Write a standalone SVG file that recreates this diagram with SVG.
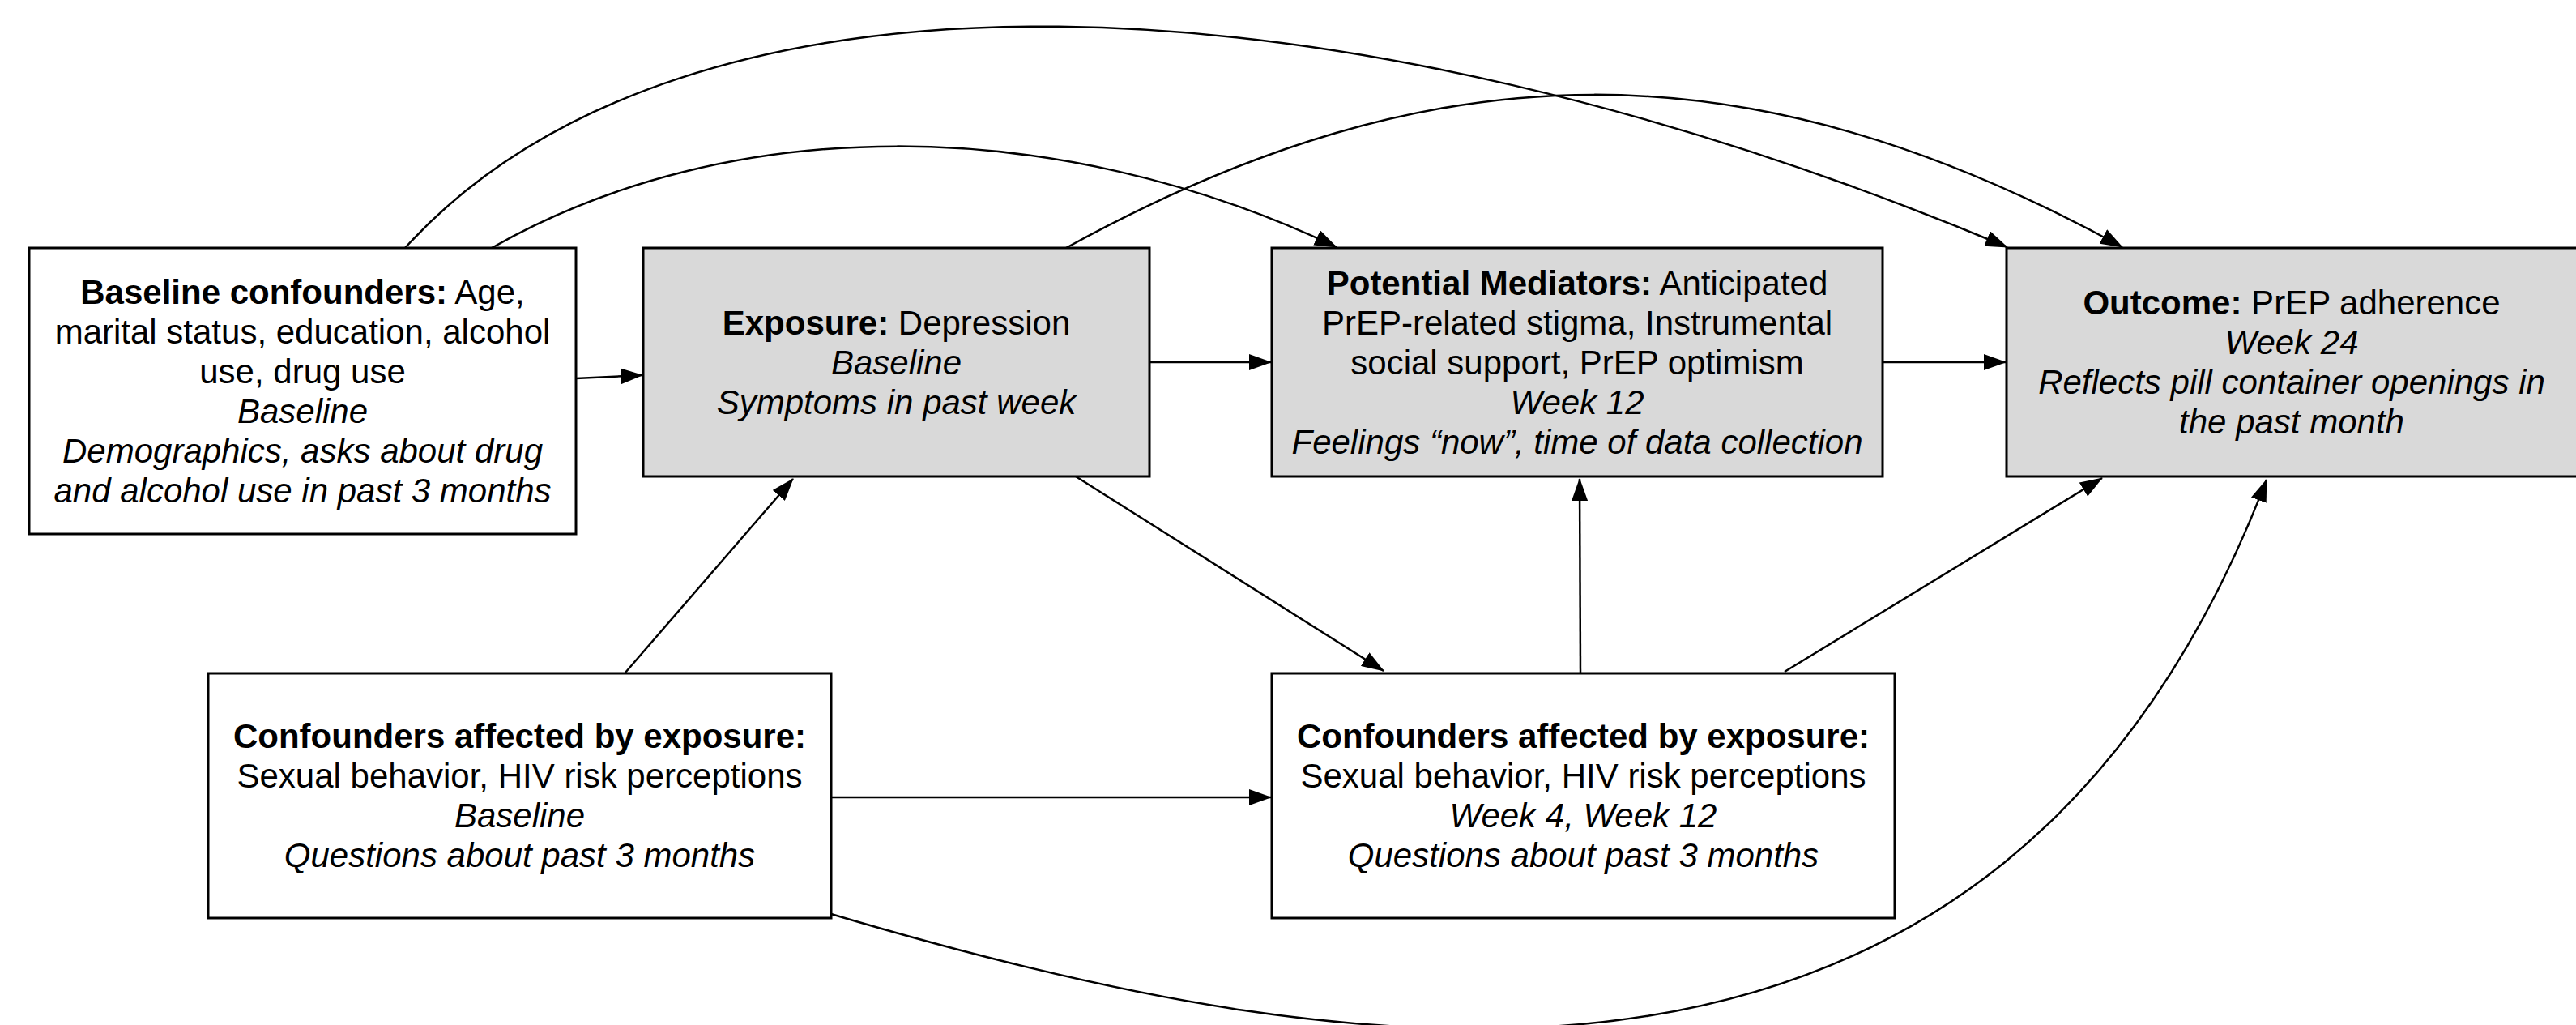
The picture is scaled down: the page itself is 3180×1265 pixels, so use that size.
<svg xmlns="http://www.w3.org/2000/svg" width="3180" height="1265" viewBox="0 0 3180 1265">
  <style>
    .box { stroke: #000; stroke-width: 3; }
    .white { fill: #ffffff; }
    .gray { fill: #d9d9d9; }
    .t { font-family: "Liberation Sans", Arial, Helvetica, sans-serif; font-size: 42px; fill: #000; text-anchor: middle; }
    .b { font-weight: bold; }
    .i { font-style: italic; }
    .edge { fill: none; stroke: #000; stroke-width: 2.5; marker-end: url(#arrow); }
  </style>
  <defs>
    <marker id="arrow" markerUnits="userSpaceOnUse" markerWidth="28" markerHeight="20" viewBox="0 0 28 20" refX="27" refY="10" orient="auto">
      <path d="M0,0 L28,10 L0,20 z" fill="#000"/>
    </marker>
  </defs>
  <rect width="3180" height="1265" fill="#ffffff"/>

  <g id="connectors">
    <path class="edge" d="M711,467 L793,463"/>
    <path class="edge" d="M1419,447 L1569,447"/>
    <path class="edge" d="M2324,447 L2476,447"/>
    <path class="edge" d="M772,830 L979,591"/>
    <path class="edge" d="M1328,588 L1708,828"/>
    <path class="edge" d="M1951,831 L1950,591"/>
    <path class="edge" d="M2203,829 L2595,590"/>
    <path class="edge" d="M1026,984 L1569,984"/>
    <path class="edge" d="M1026,1128 C1680,1322 2470,1448 2798,592"/>
    <path class="edge" d="M500,306 C845,-73.5 1648,-42.6 2478,305"/>
    <path class="edge" d="M607,306 C900,139 1300,139 1650,305"/>
    <path class="edge" d="M1316,306 C1774,54 2162,54 2620,305"/>
  </g>

  <g id="baseline-confounders">
    <rect class="box white" x="36" y="306" width="675" height="353"/>
    <text class="t" x="373.5" y="375"><tspan class="b">Baseline confounders:</tspan> Age,</text>
    <text class="t" x="373.5" y="424">marital status, education, alcohol</text>
    <text class="t" x="373.5" y="473">use, drug use</text>
    <text class="t i" x="373.5" y="522">Baseline</text>
    <text class="t i" x="373.5" y="571">Demographics, asks about drug</text>
    <text class="t i" x="373.5" y="620">and alcohol use in past 3 months</text>
  </g>

  <g id="exposure">
    <rect class="box gray" x="794" y="306" width="625" height="282"/>
    <text class="t" x="1106.5" y="413"><tspan class="b">Exposure:</tspan> Depression</text>
    <text class="t i" x="1106.5" y="462">Baseline</text>
    <text class="t i" x="1106.5" y="511">Symptoms in past week</text>
  </g>

  <g id="mediators">
    <rect class="box gray" x="1570" y="306" width="754" height="282"/>
    <text class="t" x="1947" y="364"><tspan class="b">Potential Mediators:</tspan> Anticipated</text>
    <text class="t" x="1947" y="413">PrEP-related stigma, Instrumental</text>
    <text class="t" x="1947" y="462">social support, PrEP optimism</text>
    <text class="t i" x="1947" y="511">Week 12</text>
    <text class="t i" x="1947" y="560">Feelings “now”, time of data collection</text>
  </g>

  <g id="outcome">
    <rect class="box gray" x="2477" y="306" width="712" height="282"/>
    <text class="t" x="2829" y="388"><tspan class="b">Outcome:</tspan> PrEP adherence</text>
    <text class="t i" x="2829" y="437">Week 24</text>
    <text class="t i" x="2829" y="486">Reflects pill container openings in</text>
    <text class="t i" x="2829" y="535">the past month</text>
  </g>

  <g id="confounders-baseline">
    <rect class="box white" x="257" y="831" width="769" height="302"/>
    <text class="t b" x="641.5" y="923">Confounders affected by exposure:</text>
    <text class="t" x="641.5" y="972">Sexual behavior, HIV risk perceptions</text>
    <text class="t i" x="641.5" y="1021">Baseline</text>
    <text class="t i" x="641.5" y="1070">Questions about past 3 months</text>
  </g>

  <g id="confounders-followup">
    <rect class="box white" x="1570" y="831" width="769" height="302"/>
    <text class="t b" x="1954.5" y="923">Confounders affected by exposure:</text>
    <text class="t" x="1954.5" y="972">Sexual behavior, HIV risk perceptions</text>
    <text class="t i" x="1954.5" y="1021">Week 4, Week 12</text>
    <text class="t i" x="1954.5" y="1070">Questions about past 3 months</text>
  </g>
</svg>
